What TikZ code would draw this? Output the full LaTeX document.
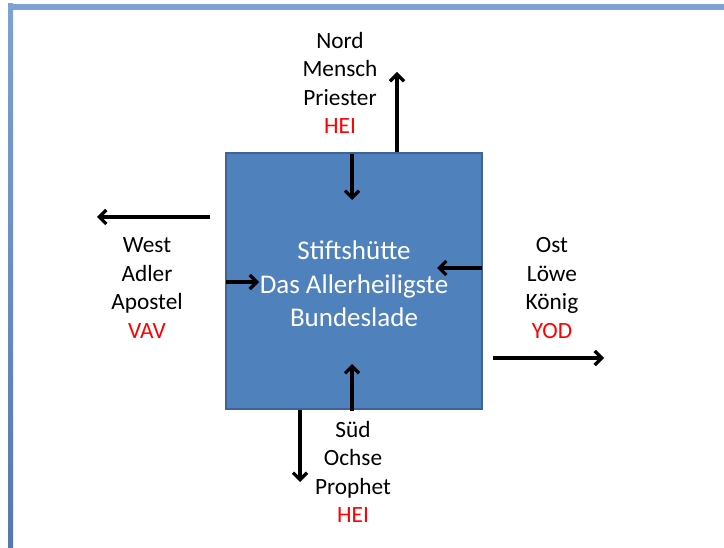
\documentclass[tikz,border=0pt]{standalone}
\usepackage{fontspec}
\setmainfont{Carlito}
\usetikzlibrary{arrows.meta}
\definecolor{boxfill}{HTML}{4F81BD}
\definecolor{boxline}{HTML}{3C6596}
\definecolor{frametop}{HTML}{7EA2D4}
\definecolor{frameleft}{HTML}{5577B2}
\definecolor{hred}{HTML}{FF0000}
\tikzset{
  lbl/.style={align=center, font=\fontsize{23.3}{28.4}\selectfont, inner sep=0pt},
  arr/.style={line width=3.2pt, -{Straight Barb[length=7pt,width=14pt,line width=3.2pt]}},
}
\begin{document}
\begin{tikzpicture}[x=1pt,y=-1pt]
\useasboundingbox (0,0) rectangle (724,548);
% frame
\fill[frametop] (8,4) rectangle (724,10);
\shade[top color=frametop, bottom color=frameleft] (8,4) rectangle (13,548);
% box
\node[draw=boxline, line width=1.2pt, fill=boxfill, minimum width=256pt, minimum height=256pt, inner sep=0pt] (box) at (354,281) {};
\node[align=center, text=white, font=\fontsize{27}{33.5}\selectfont, inner sep=0pt] (title) at (354,284) {Stiftshütte\\Das Allerheiligste\\Bundeslade};
% labels
\node[lbl] (nord) at (340,83) {Nord\\Mensch\\Priester\\\textcolor{hred}{HEI}};
\node[lbl] (west) at (147,288) {West\\Adler\\Apostel\\\textcolor{hred}{VAV}};
\node[lbl] (ost) at (552,288) {Ost\\Löwe\\König\\\textcolor{hred}{YOD}};
\node[lbl] (sued) at (353,472) {Süd\\Ochse\\Prophet\\\textcolor{hred}{HEI}};
% endpoints
\coordinate (nout) at (397,72);
\coordinate (nin) at (352,200);
\coordinate (woutS) at (210,217);
\coordinate (wout) at (97,217);
\coordinate (win) at (259,282);
\coordinate (oin) at (437,268);
\coordinate (ooutS) at (493,358);
\coordinate (oout) at (604,358);
\coordinate (sin) at (352,364);
\coordinate (sout) at (300,482);
% arrows
\draw[arr] (box.north -| nout) -- (nout);
\draw[arr] ([yshift=-2pt]box.north -| nin) -- (nin);
\draw[arr] (woutS) -- (wout);
\draw[arr] ([xshift=1pt]box.west |- win) -- (win);
\draw[arr] ([xshift=-1pt]box.east |- oin) -- (oin);
\draw[arr] (ooutS) -- (oout);
\draw[arr] ([yshift=-1pt]box.south -| sin) -- (sin);
\draw[arr] (box.south -| sout) -- (sout);
\end{tikzpicture}
\end{document}
